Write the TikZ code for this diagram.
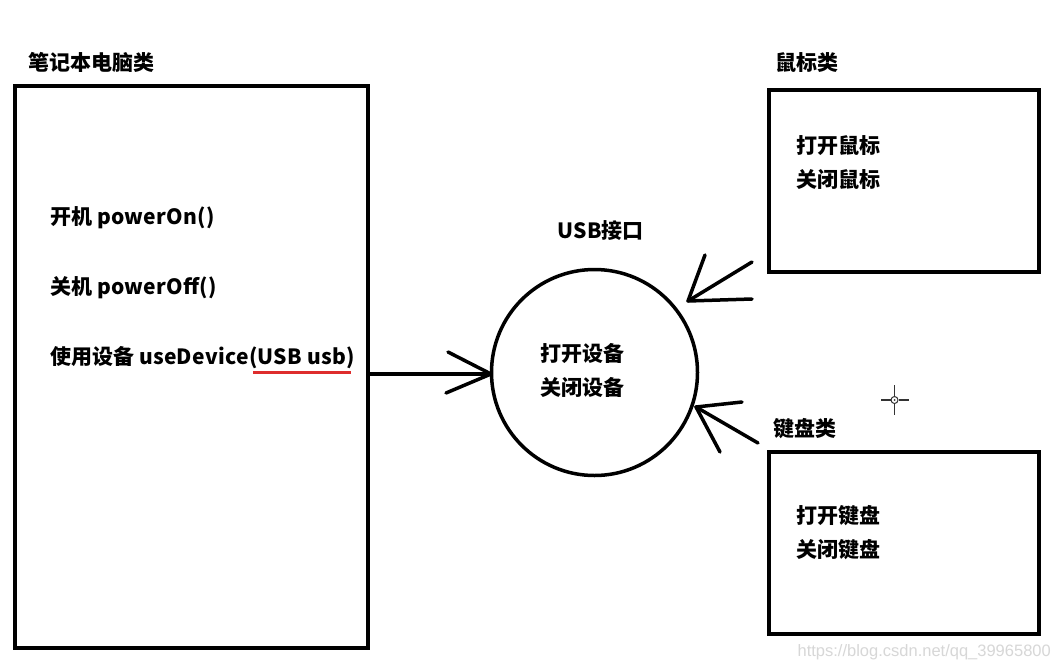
\documentclass[tikz,border=0pt]{standalone}
\usepackage{fontspec}
\newfontfamily\cjk{Noto Sans CJK SC}
\newfontfamily\wmfont{Liberation Sans}
\newcommand\latwide[1]{{\addfontfeature{LetterSpace=1.5}#1}}
\definecolor{ulred}{RGB}{222,45,45}
\definecolor{wmgray}{RGB}{215,215,215}
\begin{document}
\begin{tikzpicture}[x=1pt,y=-1pt,
  box/.style={draw, line width=4pt, inner sep=0pt, anchor=north west},
  txt/.style={font=\cjk\bfseries\fontsize{21}{24}\selectfont, anchor=base west, inner sep=0pt},
  conn/.style={line width=3.5pt, line cap=round, line join=round}]
\path[use as bounding box, fill=white] (0,0) rectangle (1060,667);

% boxes
\node[box, minimum width=353pt, minimum height=562pt] (laptop) at (13,84) {};
\node[box, minimum width=270pt, minimum height=182pt] (mouse) at (767,88) {};
\node[box, minimum width=270pt, minimum height=182pt] (kbd) at (767,450) {};
\node[draw, circle, line width=3.5pt, minimum size=206pt, inner sep=0pt] (usb) at (594.5,372.5) {};

% titles
\node[txt] (tlaptop) at (28,70) {笔记本电脑类};
\node[txt] (tmouse) at (775,70) {鼠标类};
\node[txt] (tkbd) at (773,436) {键盘类};
\node[txt] (tusb) at (557,238) {\latwide{USB}接口};

% laptop methods
\node[txt] (m1) at (50,224) {开机 \latwide{powerOn()}};
\node[txt] (m2) at (50,294) {关机 \latwide{powerOff()}};
\node[txt] (m3) at (50,364) {使用设备 \latwide{useDevice(USB usb)}};
\draw[ulred, line width=3pt] (253,372) -- (351,372);

% usb methods
\node[txt] (u1) at (540,361) {打开设备};
\node[txt] (u2) at (540,395) {关闭设备};

% mouse methods
\node[txt] (ms1) at (796,153) {打开鼠标};
\node[txt] (ms2) at (796,187) {关闭鼠标};

% keyboard methods
\node[txt] (k1) at (796,523) {打开键盘};
\node[txt] (k2) at (796,557) {关闭键盘};

% arrow laptop -> usb
\coordinate (a0) at (laptop.east |- 0,374);
\coordinate (a1) at (491,374);
\coordinate (a1u) at (448,352);
\coordinate (a1d) at (446,393);
\draw[conn] (a0) -- (a1);
\draw[conn] (a1u) -- (a1) -- (a1d);

% arrow mouse -> usb
\coordinate (b0) at (752,262);
\coordinate (b1) at (688,301);
\coordinate (b1u) at (705,255);
\coordinate (b1d) at (752,299);
\draw[conn] (b0) -- (b1);
\draw[conn] (b1u) -- (b1) -- (b1d);

% arrow keyboard -> usb
\coordinate (c0) at (758,443);
\coordinate (c1) at (696,407);
\coordinate (c1u) at (742,402);
\coordinate (c1d) at (720,452);
\draw[conn] (c0) -- (c1);
\draw[conn] (c1u) -- (c1) -- (c1d);

% cursor crosshair
\coordinate (cur) at (894.5,400);
\draw[line width=1.3pt, black!80] (881,400) -- (890.5,400) (898.5,400) -- (909,400)
  (894.5,385) -- (894.5,396) (894.5,404) -- (894.5,415);
\draw[line width=1pt, black!80] (cur) circle (3.5);
\fill[black!80] (cur) circle (1);

% watermark
\node[font=\wmfont\fontsize{16.5}{18}\selectfont, text=wmgray, anchor=base east, inner sep=0pt] (wm) at (1051,656) {https://blog.csdn.net/qq\_39965800};
\end{tikzpicture}
\end{document}
